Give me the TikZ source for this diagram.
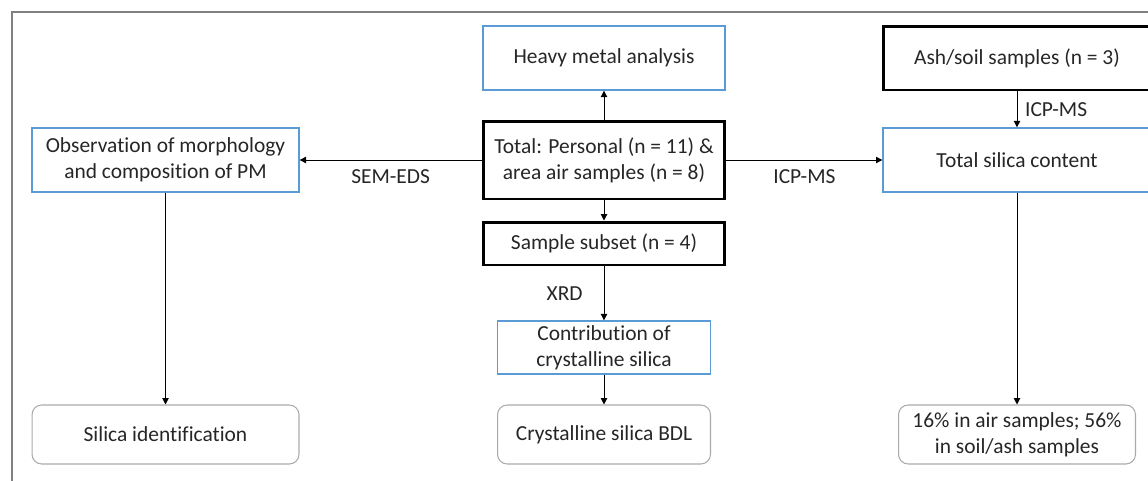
\documentclass[tikz,border=0pt]{standalone}
\usepackage{fontspec}
\setmainfont[Ligatures=NoCommon]{Carlito}
\usetikzlibrary{arrows.meta,positioning}
\definecolor{boxblue}  {RGB}{91,155,213}
\definecolor{boxgray}  {RGB}{170,170,170}
\definecolor{framegray}{RGB}{128,128,128}
\definecolor{txtgray}  {RGB}{38,38,38}

\begin{document}
\begin{tikzpicture}[
  x=0.02cm, y=-0.02cm,
  every node/.style={font=\fontsize{12.2}{14.7}\selectfont,text=txtgray,align=center},
  bluebox/.style={draw=boxblue,line width=0.8pt,inner sep=0pt},
  samplebox/.style={draw=black,line width=1.7pt,inner sep=0pt},
  resultbox/.style={draw=boxgray,line width=0.6pt,rounded corners=5.5pt,inner sep=0pt},
  arr/.style={-{Triangle[length=3.6pt,width=3.6pt]},line width=0.55pt},
]
\clip (0,0) rectangle (1148,480);

%% Outer frame
\draw[framegray,line width=0.8pt] (12,12) rectangle (1170,500);

%% Centre column
\node[bluebox,minimum width=4.84cm,minimum height=1.28cm] (heavy) at (604,58) {Heavy metal analysis};
\node[samplebox,minimum width=4.84cm,minimum height=1.56cm] (total) at (604,160)
  {Total: Personal (n = 11) \&\\area air samples (n = 8)};
\node[samplebox,minimum width=4.84cm,minimum height=0.86cm] (subset) at (604,243.5) {Sample subset (n = 4)};
\node[bluebox,minimum width=4.26cm,minimum height=1.06cm] (contrib) at (604,347.5)
  {Contribution of\\crystalline silica};
\node[resultbox,minimum width=4.26cm,minimum height=1.18cm] (bdl) at (604,434.5) {Crystalline silica BDL};

%% Left column
\node[bluebox,minimum width=5.34cm,minimum height=1.28cm] (morph) at (165.5,160)
  {Observation of morphology\\and composition of PM};
\node[resultbox,minimum width=5.34cm,minimum height=1.18cm] (silid) at (165.5,434.5) {Silica identification};

%% Right column
\node[samplebox,minimum width=5.36cm,minimum height=1.28cm] (ash) at (1017,58) {Ash/soil samples (n = 3)};
\node[bluebox,minimum width=5.36cm,minimum height=1.28cm] (silica) at (1017,160) {Total silica content};
\node[resultbox,minimum width=4.74cm,minimum height=1.18cm] (pct) at (1017,434.5)
  {16\% in air samples; 56\%\\in soil/ash samples};

%% Connectors
\draw[arr] (total) -- (heavy);
\draw[arr] (total) -- (subset);
\draw[arr] (subset) -- node[left=0.3cm] {XRD} (contrib);
\draw[arr] (contrib) -- (bdl);
\draw[arr] (total) -- node[below=2pt] {SEM-EDS} (morph);
\draw[arr] (total) -- node[below=2pt] {ICP-MS} (silica);
\draw[arr] (morph) -- (silid);
\draw[arr] (ash) -- node[right=1pt] {ICP-MS} (silica);
\draw[arr] (silica) -- (pct);

\end{tikzpicture}
\end{document}
